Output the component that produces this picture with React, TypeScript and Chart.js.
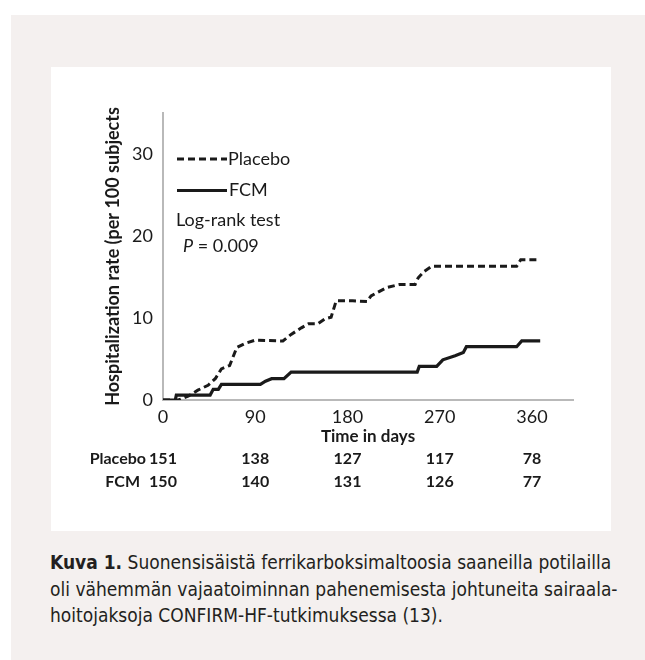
import React, { useEffect, useRef } from 'react';
import { Chart, registerables } from 'chart.js';

Chart.register(...registerables);

// ---- data ----
const placeboDays = [0, 15, 25, 34, 44, 51, 57, 65, 72, 80, 90, 117, 125, 135, 142, 151, 158, 164, 169, 185, 199, 203, 218, 231, 246, 249, 255, 262, 345, 349, 368];
const placeboRate = [0, 0, 0.5, 1.2, 1.8, 2.6, 3.8, 4.2, 6.4, 6.9, 7.3, 7.2, 8.0, 8.8, 9.3, 9.3, 9.9, 10.1, 12.1, 12.1, 12.0, 12.7, 13.7, 14.1, 14.1, 14.9, 15.7, 16.3, 16.3, 17.1, 17.1];

const fcmDays = [0, 12, 13, 46, 49, 54, 57, 95, 100, 106, 118, 125, 248, 250, 267, 273, 285, 293, 296, 345, 350, 368];
const fcmRate = [0, 0, 0.6, 0.6, 1.3, 1.3, 1.9, 1.9, 2.3, 2.6, 2.6, 3.4, 3.4, 4.1, 4.1, 4.9, 5.4, 5.8, 6.5, 6.5, 7.2, 7.2];

const xTickValues = [0, 90, 180, 270, 360];
const yTickValues = [0, 10, 20, 30];
const xMax = 400;
const yMax = 35;

const seriesNames = ['Placebo', 'FCM'];
const placeboAtRisk = [151, 138, 127, 117, 78];
const fcmAtRisk = [150, 140, 131, 126, 77];

const yTitle = 'Hospitalization rate (per 100 subjects';
const xTitle = 'Time in days';
const testLabel = 'Log-rank test';
const pLabel = 'P';
const pValue = ' = 0.009';

const captionBold = 'Kuva 1.';
const captionLines = [
  ' Suonensisäistä ferrikarboksimaltoosia saaneilla potilailla',
  'oli vähemmän vajaatoiminnan pahenemisesta johtuneita sairaala-',
  'hoitojaksoja CONFIRM-HF-tutkimuksessa (13).',
];

const INK = '#1a1a1a';
const AXIS = '#b9b9b9';
const DASH = [7, 4];

const annotationPlugin = {
  id: 'annotations',
  afterDraw(chart: any) {
    const { ctx, chartArea, scales } = chart;
    const xs = scales.x;
    const L = chartArea.left;
    const T = chartArea.top;
    ctx.save();
    ctx.fillStyle = INK;
    ctx.strokeStyle = INK;
    ctx.textBaseline = 'middle';

    // legend: dashed placebo, solid FCM
    ctx.lineWidth = 3;
    ctx.setLineDash(DASH);
    ctx.beginPath();
    ctx.moveTo(L + 14, T + 46);
    ctx.lineTo(L + 64, T + 46);
    ctx.stroke();
    ctx.setLineDash([]);
    ctx.beginPath();
    ctx.moveTo(L + 14, T + 77.5);
    ctx.lineTo(L + 64, T + 77.5);
    ctx.stroke();

    ctx.font = '18px Lato';
    ctx.textAlign = 'left';
    ctx.fillText(seriesNames[0], L + 65, T + 46);
    ctx.fillText(seriesNames[1], L + 66, T + 77.5);
    ctx.fillText(testLabel, L + 13, T + 107);
    ctx.font = 'italic 18px Lato';
    ctx.fillText(pLabel, L + 20, T + 133);
    const pw = ctx.measureText(pLabel).width;
    ctx.font = '18px Lato';
    ctx.fillText(pValue, L + 20 + pw, T + 133);

    // numbers at risk
    ctx.font = 'bold 16px Lato';
    const rows = [placeboAtRisk, fcmAtRisk];
    rows.forEach((vals, r) => {
      const y = chartArea.bottom + 59 + r * 23;
      ctx.textAlign = 'right';
      ctx.fillText(seriesNames[r], L - (r === 0 ? 17 : 23), y);
      ctx.textAlign = 'center';
      vals.forEach((v, i) => {
        ctx.fillText(String(v), xs.getPixelForValue(xTickValues[i]), y);
      });
    });
    ctx.restore();
  },
};

function KMChart() {
  const ref = useRef<HTMLCanvasElement | null>(null);
  useEffect(() => {
    if (!ref.current) return;
    const chart = new Chart(ref.current, {
      type: 'line',
      data: {
        datasets: [
          {
            label: seriesNames[0],
            data: placeboDays.map((d, i) => ({ x: d, y: placeboRate[i] })),
            borderColor: INK,
            borderWidth: 3,
            borderDash: DASH,
            pointRadius: 0,
            tension: 0,
            fill: false,
          },
          {
            label: seriesNames[1],
            data: fcmDays.map((d, i) => ({ x: d, y: fcmRate[i] })),
            borderColor: INK,
            borderWidth: 3.2,
            pointRadius: 0,
            tension: 0,
            fill: false,
          },
        ],
      },
      options: {
        animation: false,
        responsive: false,
        maintainAspectRatio: false,
        devicePixelRatio: 1,
        layout: { padding: { top: 46, right: 38, left: 0, bottom: 0 } },
        plugins: { legend: { display: false }, tooltip: { enabled: false } },
        scales: {
          x: {
            type: 'linear',
            min: 0,
            max: xMax,
            afterBuildTicks: (s: any) => {
              s.ticks = xTickValues.map((v) => ({ value: v }));
            },
            afterFit: (s: any) => {
              s.height = 131;
            },
            grid: { display: true, drawOnChartArea: false, drawTicks: false },
            border: { color: AXIS, width: 2 },
            ticks: {
              color: INK,
              padding: 6,
              maxRotation: 0,
              font: { family: 'Lato', size: 18 },
            },
            title: {
              display: true,
              text: xTitle,
              color: INK,
              font: { family: 'Lato', size: 17, weight: 'bold' },
              padding: { top: 0, bottom: 84 },
            },
          },
          y: {
            type: 'linear',
            min: 0,
            max: yMax,
            afterBuildTicks: (s: any) => {
              s.ticks = yTickValues.map((v) => ({ value: v }));
            },
            afterFit: (s: any) => {
              s.width = 112;
            },
            grid: { display: true, drawOnChartArea: false, drawTicks: false },
            border: { color: AXIS, width: 2 },
            ticks: {
              color: INK,
              padding: 10,
              font: { family: 'Lato', size: 18 },
            },
            title: {
              display: true,
              text: yTitle,
              color: INK,
              font: { family: 'Lato', size: 18, weight: 'bold' },
              padding: { top: 51, bottom: 0 },
            },
          },
        },
      },
      plugins: [annotationPlugin],
    } as any);
    return () => chart.destroy();
  }, []);
  return <canvas ref={ref} width={560} height={464} style={{ display: 'block', width: 560, height: 464 }} />;
}

export default function App() {
  return (
    <div style={{ position: 'absolute', left: 0, top: 0, width: 645, height: 660, background: '#ffffff', overflow: 'hidden' }}>
      <div style={{ position: 'absolute', left: 11, top: 15, width: 640, height: 650, background: '#f4f0ef' }} />
      <div style={{ position: 'absolute', left: 51, top: 67, width: 560, height: 464, background: '#ffffff' }}>
        <KMChart />
      </div>
      <div
        style={{
          position: 'absolute',
          left: 50,
          top: 549,
          width: 590,
          fontFamily: '"DejaVu Sans Condensed", "DejaVu Sans", sans-serif',
          fontSize: 19,
          lineHeight: '26.5px',
          color: '#231f20',
          whiteSpace: 'nowrap',
        }}
      >
        <div>
          <b>{captionBold}</b>
          {captionLines[0]}
        </div>
        <div>{captionLines[1]}</div>
        <div>{captionLines[2]}</div>
      </div>
    </div>
  );
}
